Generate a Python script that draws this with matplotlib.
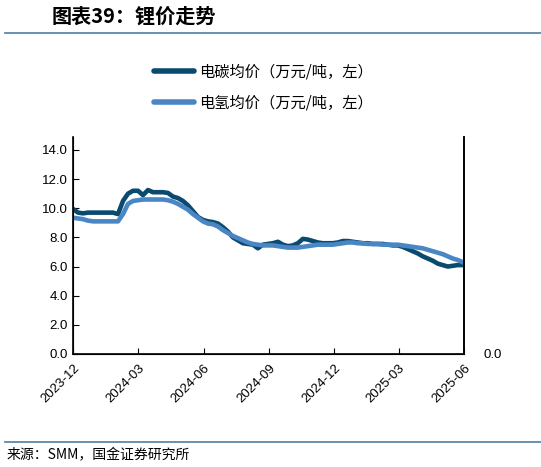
import matplotlib
matplotlib.use('Agg')
import matplotlib.pyplot as plt
import matplotlib.dates as mdates
from matplotlib.lines import Line2D
import pandas as pd

plt.rcParams['font.family'] = ['Liberation Sans', 'Noto Sans CJK SC', 'DejaVu Sans']

dates = list(pd.date_range('2023-12-01', periods=79, freq='7D')) + [pd.Timestamp('2025-06-01')]

carbonate = [9.95, 9.7, 9.65, 9.7, 9.7, 9.7, 9.7, 9.7, 9.7, 9.6,
             10.5, 11.0, 11.2, 11.2, 10.9, 11.25, 11.1, 11.1, 11.1, 11.05,
             10.8, 10.7, 10.5, 10.2, 9.8, 9.4, 9.2, 9.1, 9.05, 8.95,
             8.7, 8.4, 8.0, 7.8, 7.6, 7.55, 7.5, 7.25, 7.5, 7.55,
             7.6, 7.7, 7.5, 7.4, 7.45, 7.6, 7.9, 7.85, 7.75, 7.65,
             7.6, 7.6, 7.6, 7.65, 7.75, 7.75, 7.7, 7.65, 7.6, 7.6,
             7.55, 7.55, 7.55, 7.5, 7.45, 7.45, 7.35, 7.2, 7.05, 6.9,
             6.7, 6.55, 6.4, 6.2, 6.1, 6.0, 6.05, 6.1, 6.1, 6.1]

hydroxide = [9.35, 9.3, 9.25, 9.15, 9.1, 9.1, 9.1, 9.1, 9.1, 9.1,
             9.6, 10.3, 10.5, 10.55, 10.6, 10.6, 10.6, 10.6, 10.6, 10.55,
             10.45, 10.3, 10.1, 9.9, 9.6, 9.35, 9.1, 8.95, 8.9, 8.75,
             8.5, 8.3, 8.1, 7.95, 7.8, 7.65, 7.55, 7.5, 7.45, 7.45,
             7.45, 7.4, 7.35, 7.3, 7.3, 7.3, 7.35, 7.4, 7.45, 7.5,
             7.5, 7.5, 7.5, 7.55, 7.6, 7.65, 7.65, 7.6, 7.6, 7.55,
             7.55, 7.55, 7.5, 7.5, 7.5, 7.5, 7.45, 7.4, 7.35, 7.3,
             7.25, 7.15, 7.05, 6.95, 6.85, 6.7, 6.55, 6.45, 6.3, 6.25]

labels = ['电碳均价（万元/吨，左）', '电氢均价（万元/吨，左）']
colors = ['#0b4a6f', '#4a86c4']
cn = ['Noto Sans CJK SC', 'DejaVu Sans']

fig = plt.figure(figsize=(5.41, 4.67), dpi=100)
ax = fig.add_axes([0.135, 0.242, 0.723, 0.465])

ax.plot(dates, carbonate, color=colors[0], lw=3.3, solid_capstyle='round')
ax.plot(dates, hydroxide, color=colors[1], lw=3.3, solid_capstyle='round')

ax.set_ylim(0, 14.9)
ax.set_yticks([0, 2, 4, 6, 8, 10, 12, 14])
ax.set_yticklabels(['%.1f' % v for v in [0, 2, 4, 6, 8, 10, 12, 14]])
ax.set_xlim(pd.Timestamp('2023-12-01'), pd.Timestamp('2025-06-01'))
ax.xaxis.set_major_locator(mdates.MonthLocator(bymonth=[3, 6, 9, 12]))
ax.xaxis.set_major_formatter(mdates.DateFormatter('%Y-%m'))
for lab in ax.get_xticklabels():
    lab.set_rotation(45)
    lab.set_ha('right')
    lab.set_rotation_mode('anchor')
ax.tick_params(direction='in', length=4, labelsize=9.5, colors='black')
ax.tick_params(axis='x', pad=6)
ax.spines['top'].set_visible(False)
for s in ['left', 'bottom', 'right']:
    ax.spines[s].set_linewidth(1.2)

ax2 = ax.twinx()
ax2.set_ylim(0, 14.9)
ax2.set_yticks([0])
ax2.set_yticklabels(['0.0'])
ax2.tick_params(direction='in', length=0, labelsize=9.5, pad=14)
ax2.spines['top'].set_visible(False)
ax2.spines['right'].set_linewidth(1.2)

handles = [Line2D([], [], color=c, lw=4, solid_capstyle='round') for c in colors]
fig.legend(handles, labels, loc='center', bbox_to_anchor=(0.487, 0.813),
           frameon=False, handlelength=2.6, handletextpad=0.3, labelspacing=0.95,
           prop={'family': cn, 'size': 11})

# title, rules and source
fig.text(0.095, 0.965, '图表39：锂价走势', family=cn, fontsize=14.5, fontweight='bold',
         fontstyle='italic', va='center', ha='left')
fig.add_artist(Line2D([0.01, 1.0], [0.929, 0.929], color='#4f7fa3', lw=1.2))
fig.add_artist(Line2D([0.01, 1.0], [0.053, 0.053], color='#4f7fa3', lw=1.2))
fig.text(0.012, 0.025, '来源：SMM，国金证券研究所', family=cn, fontsize=10, va='center', ha='left')

fig.savefig('out.png', dpi=100)
